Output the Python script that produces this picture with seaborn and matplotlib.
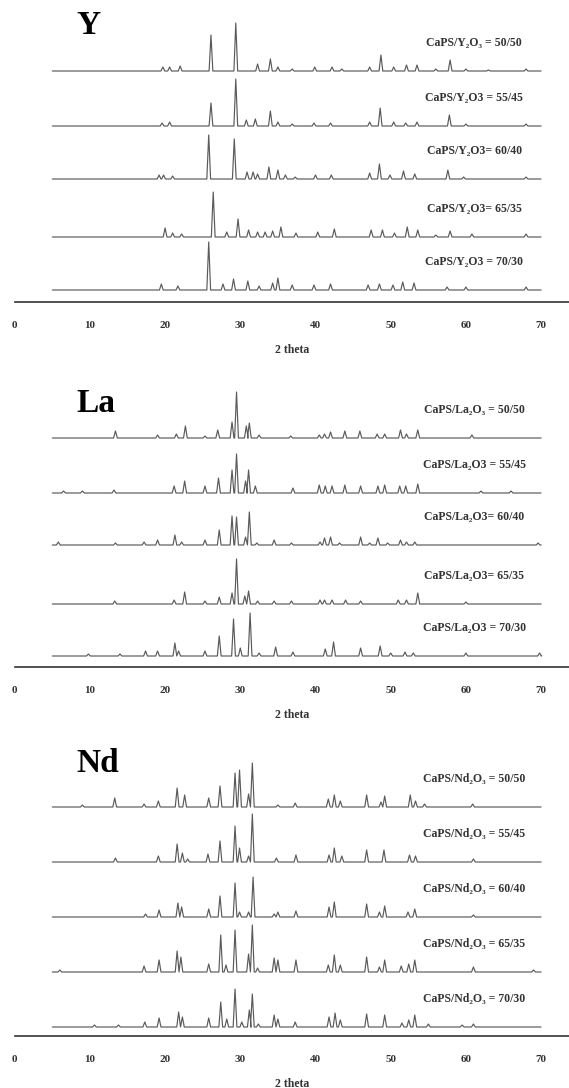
import matplotlib
matplotlib.use("Agg")
import matplotlib.pyplot as plt
import seaborn as sns
import numpy as np
import pandas as pd

# peak lists: (2 theta, height above baseline in px)
y_50_50 = [(19.7, 4), (20.6, 4), (22.0, 5), (26.1, 36), (29.4, 48), (32.3, 7), (34.0, 12), (35.0, 4),
           (36.9, 2), (39.9, 4), (42.2, 4), (43.5, 2), (47.2, 4), (48.7, 16), (50.4, 4), (52.1, 6),
           (53.5, 6), (56.0, 2), (57.9, 11), (60.0, 2), (63.0, 1), (68.0, 2)]
y_55_45 = [(19.6, 3), (20.6, 4), (26.1, 23), (29.4, 47), (30.8, 6), (32.0, 7), (34.0, 15), (35.0, 4),
           (36.9, 2), (39.8, 3), (42.0, 3), (47.2, 4), (48.6, 18), (50.4, 4), (52.0, 3), (53.5, 4),
           (57.8, 11), (60.0, 2), (68.0, 2)]
y_60_40 = [(19.2, 4), (19.8, 4), (21.0, 3), (25.8, 44), (29.2, 40), (30.9, 7), (31.7, 7), (32.3, 5),
           (33.8, 12), (35.0, 9), (36.0, 4), (37.3, 2), (40.0, 4), (42.1, 4), (47.2, 6), (48.5, 15),
           (49.9, 4), (51.7, 8), (53.2, 5), (57.6, 9), (59.7, 2), (68.0, 2)]
y_65_35 = [(20.0, 9), (21.0, 4), (22.2, 3), (26.4, 45), (28.2, 5), (29.7, 18), (31.1, 7), (32.3, 5),
           (33.3, 5), (34.3, 6), (35.4, 10), (37.4, 4), (40.3, 5), (42.5, 8), (47.4, 7), (48.9, 7),
           (50.5, 4), (52.2, 10), (53.6, 7), (56.0, 2), (57.9, 6), (60.8, 3), (68.0, 3)]
y_70_30 = [(19.5, 6), (21.7, 4), (25.8, 48), (27.7, 6), (29.1, 11), (31.0, 9), (32.5, 4), (34.3, 7),
           (35.0, 12), (36.9, 5), (39.8, 5), (42.0, 6), (47.0, 5), (48.5, 6), (50.3, 5), (51.6, 8),
           (53.1, 7), (57.5, 3), (60.0, 3), (68.0, 3)]

la_50_50 = [(13.4, 7), (19.0, 3), (21.5, 4), (22.7, 12), (25.3, 2), (27.0, 8), (28.9, 16), (29.5, 46),
            (30.8, 12), (31.2, 15), (32.5, 3), (36.7, 2), (40.5, 3), (41.2, 4), (42.0, 6), (43.9, 7),
            (45.9, 7), (48.2, 4), (49.2, 4), (51.3, 8), (52.1, 4), (53.6, 8), (60.8, 3)]
la_55_45 = [(6.5, 2), (9.0, 2), (13.2, 3), (21.2, 7), (22.6, 12), (25.3, 7), (27.1, 15), (28.9, 23),
            (29.5, 39), (30.7, 12), (31.1, 23), (32.0, 7), (37.0, 5), (40.5, 8), (41.3, 7), (42.2, 7),
            (43.9, 8), (46.0, 7), (48.3, 7), (49.2, 8), (51.2, 7), (52.0, 7), (53.6, 9), (62.0, 2),
            (66.0, 2)]
la_60_40 = [(5.8, 3), (13.4, 2), (17.2, 3), (19.0, 5), (21.3, 10), (22.2, 3), (25.3, 5), (27.2, 15),
            (28.9, 29), (29.5, 28), (30.7, 8), (31.2, 33), (32.2, 2), (34.5, 5), (36.8, 2), (40.6, 3),
            (41.2, 7), (42.0, 8), (43.2, 2), (46.0, 8), (47.2, 2), (48.3, 7), (49.6, 2), (51.3, 5),
            (52.1, 3), (53.2, 3), (69.6, 2)]
la_65_35 = [(13.3, 3), (21.2, 4), (22.6, 12), (25.3, 3), (27.2, 7), (28.9, 11), (29.5, 45), (30.6, 8),
            (31.1, 13), (32.3, 3), (34.5, 3), (36.8, 3), (40.6, 4), (41.2, 4), (42.2, 4), (44.0, 4),
            (46.0, 3), (51.0, 4), (52.1, 4), (53.6, 11), (60.0, 2)]
la_70_30 = [(9.8, 2), (14.0, 2), (17.4, 5), (19.0, 5), (21.3, 13), (21.8, 5), (25.3, 5), (27.2, 20),
            (29.1, 37), (30.0, 8), (31.3, 43), (32.5, 3), (34.7, 9), (37.0, 4), (41.3, 7), (42.4, 14),
            (46.0, 8), (48.6, 10), (50.0, 3), (51.9, 4), (53.0, 3), (60.0, 3), (69.8, 3)]

nd_50_50 = [(9.0, 2), (13.3, 9), (17.2, 3), (19.1, 6), (21.6, 19), (22.6, 12), (25.8, 9), (27.3, 21),
            (29.3, 34), (29.9, 37), (31.1, 13), (31.6, 44), (35.0, 2), (37.3, 4), (41.7, 8), (42.5, 12),
            (43.3, 6), (46.8, 12), (48.7, 5), (49.2, 11), (52.6, 12), (53.3, 6), (54.5, 3), (60.9, 3)]
nd_55_45 = [(13.4, 4), (19.1, 6), (21.6, 18), (22.3, 9), (23.0, 3), (25.7, 8), (27.3, 21), (29.3, 36),
            (29.9, 14), (31.1, 6), (31.6, 48), (34.8, 4), (37.4, 7), (41.8, 7), (42.5, 14), (43.5, 6),
            (46.8, 12), (49.1, 12), (52.5, 7), (53.3, 6), (61.0, 3)]
nd_60_40 = [(17.4, 3), (19.2, 7), (21.7, 14), (22.2, 10), (25.8, 8), (27.3, 21), (29.3, 34), (29.9, 5),
            (31.1, 5), (31.7, 40), (34.5, 3), (35.0, 5), (37.4, 6), (41.8, 10), (42.5, 15), (46.8, 13),
            (48.5, 5), (49.2, 11), (52.3, 5), (53.2, 8), (61.0, 2)]
nd_65_35 = [(6.0, 2), (17.2, 6), (19.2, 12), (21.6, 21), (22.1, 15), (25.8, 8), (27.4, 37), (28.1, 7),
            (29.3, 42), (31.1, 18), (31.6, 47), (32.3, 4), (34.5, 14), (35.0, 12), (37.4, 12), (41.7, 7),
            (42.5, 17), (43.3, 7), (46.8, 15), (48.5, 5), (49.2, 12), (51.4, 6), (52.4, 8), (53.2, 12),
            (61.0, 5), (69.0, 2)]
nd_70_30 = [(10.6, 2), (13.8, 2), (17.3, 5), (19.2, 9), (21.8, 15), (22.3, 10), (25.8, 9), (27.4, 25),
            (28.2, 8), (29.3, 38), (30.2, 5), (31.2, 17), (31.6, 33), (32.4, 3), (34.5, 12), (35.0, 8),
            (37.3, 5), (41.8, 10), (42.6, 14), (43.3, 7), (46.8, 13), (49.2, 12), (51.5, 4), (52.4, 7),
            (53.2, 12), (55.0, 3), (59.5, 2), (61.0, 3)]

y_labels = ["CaPS/Y\u2082O\u2083 = 50/50", "CaPS/Y\u2082O3 = 55/45", "CaPS/Y\u2082O3= 60/40",
            "CaPS/Y\u2082O3= 65/35", "CaPS/Y\u2082O3 = 70/30"]
la_labels = ["CaPS/La\u2082O\u2083 = 50/50", "CaPS/La\u2082O3 = 55/45", "CaPS/La\u2082O3= 60/40",
             "CaPS/La\u2082O3= 65/35", "CaPS/La\u2082O3 = 70/30"]
nd_labels = ["CaPS/Nd\u2082O\u2083 = 50/50", "CaPS/Nd\u2082O\u2083 = 55/45", "CaPS/Nd\u2082O\u2083 = 60/40",
             "CaPS/Nd\u2082O\u2083 = 65/35", "CaPS/Nd\u2082O\u2083 = 70/30"]

# vertical offset of each pattern above the axis (px)
y_offsets = [231, 176, 123, 65, 12]
la_offsets = [229, 174, 122, 63, 11]
nd_offsets = [229, 174, 119, 64, 9]

x_ticks = [0, 10, 20, 30, 40, 50, 60, 70]
theta_start, theta_end = 5, 70

panels = [
    ("Y", [y_50_50, y_55_45, y_60_40, y_65_35, y_70_30], y_labels, y_offsets, (0, 302), 276),
    ("La", [la_50_50, la_55_45, la_60_40, la_65_35, la_70_30], la_labels, la_offsets, (345, 667), 264),
    ("Nd", [nd_50_50, nd_55_45, nd_60_40, nd_65_35, nd_70_30], nd_labels, nd_offsets, (720, 1036), 273),
]

W, H = 569, 1088
px_per_deg = 7.52
x0_px = 14.7
half_w = 0.25

sns.set_style("white")
plt.rcParams['font.family'] = ['Liberation Serif', 'DejaVu Serif']

fig = plt.figure(figsize=(W / 100, H / 100), dpi=100)


def trace(peaks, offset):
    pts = [(theta_start, 0.0)]
    for pos, h in sorted(peaks):
        pts += [(pos - half_w, 0.0), (pos, h), (pos + half_w, 0.0)]
    pts.append((theta_end, 0.0))
    df = pd.DataFrame(pts, columns=["theta", "intensity"])
    df["intensity"] += offset
    return df


for letter, patterns, labels, offsets, (top, bottom), letter_y in panels:
    ax = fig.add_axes([x0_px / W, 1 - bottom / H, (W - x0_px) / W, (bottom - top) / H])
    ax.patch.set_visible(False)
    for peaks, lab, off in zip(patterns, labels, offsets):
        df = trace(peaks, off)
        sns.lineplot(data=df, x="theta", y="intensity", ax=ax, color="#5a5a5a",
                     lw=0.85, estimator=None, sort=False)
        ax.text(61.1, off + 28, lab, ha="center", va="center", fontsize=8.5,
                fontweight="bold", color="#333333")
    ax.text(8.2, letter_y, letter, ha="left", va="center", fontsize=24,
            fontweight="bold", color="black")
    ax.set_xlim(0, (W - x0_px) / px_per_deg)
    ax.set_ylim(0, bottom - top)
    ax.set_xticks(x_ticks)
    ax.set_yticks([])
    for s in ["left", "top", "right"]:
        ax.spines[s].set_visible(False)
    ax.spines["bottom"].set_color("#333333")
    ax.spines["bottom"].set_linewidth(1.2)
    ax.tick_params(axis="x", direction="inout", length=5, width=1, color="#333333", pad=11,
                   labelsize=8, labelcolor="#333333")
    for t in ax.get_xticklabels():
        t.set_fontweight("bold")
    ax.set_xlabel("2 theta", fontsize=8.5, fontweight="bold", labelpad=10, color="#333333")
    ax.set_ylabel("")

fig.savefig("out.png", dpi=100)
